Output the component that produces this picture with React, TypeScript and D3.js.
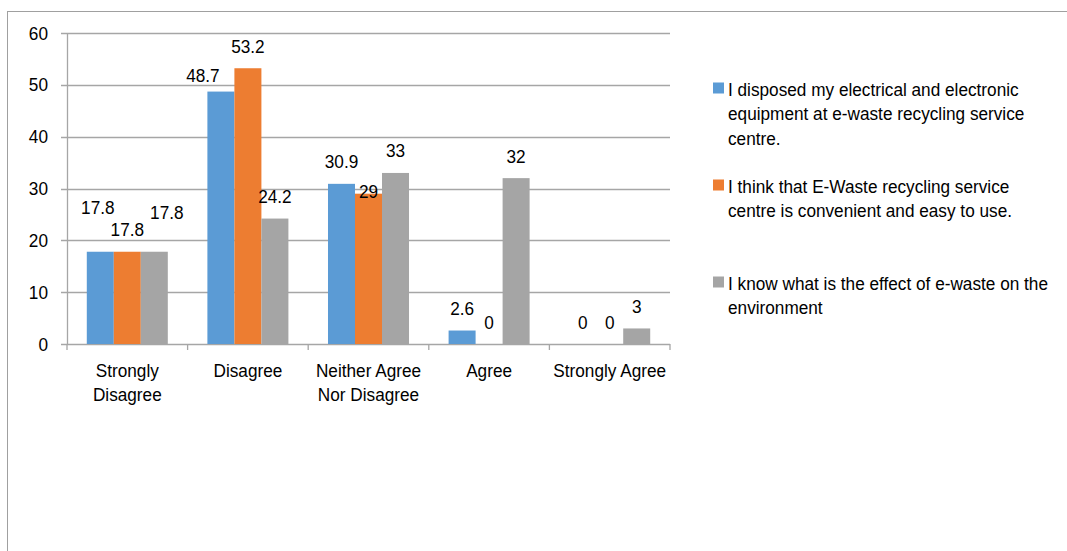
import React from "react";
import * as d3 from "d3";

const categories: string[][] = [
  ["Strongly", "Disagree"],
  ["Disagree"],
  ["Neither Agree", "Nor Disagree"],
  ["Agree"],
  ["Strongly Agree"],
];
const seriesNames: string[][] = [
  ["I disposed my electrical and electronic", "equipment at e-waste recycling service", "centre."],
  ["I think that E-Waste recycling service", "centre is convenient and easy to use."],
  ["I know what is the effect of e-waste on the", "environment"],
];
const disposedValues = [17.8, 48.7, 30.9, 2.6, 0];
const convenientValues = [17.8, 53.2, 29, 0, 0];
const knowValues = [17.8, 24.2, 33, 32, 3];
const yTicks = [0, 10, 20, 30, 40, 50, 60];
const colors = ["#5B9BD5", "#ED7D31", "#A5A5A5"];
// label nudges [dx, dy] per series per category (style only)
const labelNudges: number[][][] = [
  [[-2.5, -22], [-18, 6], [0, 0], [0, 0], [0, 0]],
  [[0, 0], [0, 0], [0, 20], [0, 0], [0, 0]],
  [[12.5, -17], [0, 0], [0, 0], [0, 0], [0, 0]],
];

const W = 1067;
const H = 551;
const FONT = "'Liberation Sans', Arial, sans-serif";
const FS = 18.5;
const SX = 0.93;

function T({ x, y, lines, anchor = "start", lh = 24.5 }: { x: number; y: number; lines: (string | number)[]; anchor?: string; lh?: number }) {
  return (
    <g transform={`translate(${x},${y}) scale(${SX},1)`}>
      <text textAnchor={anchor as any} fontSize={FS} fill="#000" fontFamily={FONT}>
        {lines.map((ln, k) => (
          <tspan key={k} x={0} y={k * lh}>{ln}</tspan>
        ))}
      </text>
    </g>
  );
}

export default function App() {
  const series = [disposedValues, convenientValues, knowValues];
  const left = 67, right = 670, top = 33, bottom = 344;
  const x = d3.scaleBand<number>().domain(d3.range(categories.length)).range([left, right]).padding(0);
  const inner = d3.scaleBand<number>().domain([0, 1, 2]).range([0, x.bandwidth()]).paddingInner(0).paddingOuter(0.733);
  const y = d3.scaleLinear().domain([0, 60]).range([bottom, top]);
  const grid = "#A6A6A6";

  return (
    <svg width={W} height={H} style={{ position: "absolute", left: 0, top: 0 }} fontFamily={FONT}>
      <rect x={0} y={0} width={W} height={H} fill="#fff" />
      <rect x={7.5} y={11.5} width={W + 10} height={H + 10} fill="none" stroke="#A0A0A0" strokeWidth={1} />
      {yTicks.map((t) => (
        <g key={t}>
          <line x1={left - 6} x2={right} y1={Math.round(y(t)) + 0.5} y2={Math.round(y(t)) + 0.5} stroke={grid} strokeWidth={1.3} />
          <T x={48} y={y(t) + 6.5} lines={[t]} anchor="end" />
        </g>
      ))}
      <line x1={left + 0.5} x2={left + 0.5} y1={top} y2={bottom} stroke={grid} strokeWidth={1.3} />
      {d3.range(categories.length + 1).map((i) => {
        const xx = left + i * x.step();
        return <line key={i} x1={xx} x2={xx} y1={bottom} y2={bottom + 6} stroke={grid} strokeWidth={1.3} />;
      })}
      {series.map((vals, s) =>
        vals.map((v, c) => {
          const bx = (x(c) as number) + (inner(s) as number);
          return v > 0 ? (
            <rect key={`b${s}-${c}`} x={bx} y={y(v)} width={inner.bandwidth()} height={y(0) - y(v)} fill={colors[s]} />
          ) : null;
        })
      )}
      {series.map((vals, s) =>
        vals.map((v, c) => {
          const cx = (x(c) as number) + (inner(s) as number) + inner.bandwidth() / 2;
          const [dx, dy] = labelNudges[s][c];
          return <T key={`l${s}-${c}`} x={cx + dx} y={y(v) - 15.5 + dy} lines={[v]} anchor="middle" />;
        })
      )}
      {categories.map((lines, c) => (
        <T key={`c${c}`} x={(x(c) as number) + x.bandwidth() / 2} y={376.5} lines={lines} anchor="middle" />
      ))}
      {seriesNames.map((lines, s) => {
        const base = 95.5 + s * 97;
        return (
          <g key={`g${s}`}>
            <rect x={713} y={base - 13} width={11} height={11} fill={colors[s]} />
            <T x={728} y={base} lines={lines} lh={25} />
          </g>
        );
      })}
    </svg>
  );
}
